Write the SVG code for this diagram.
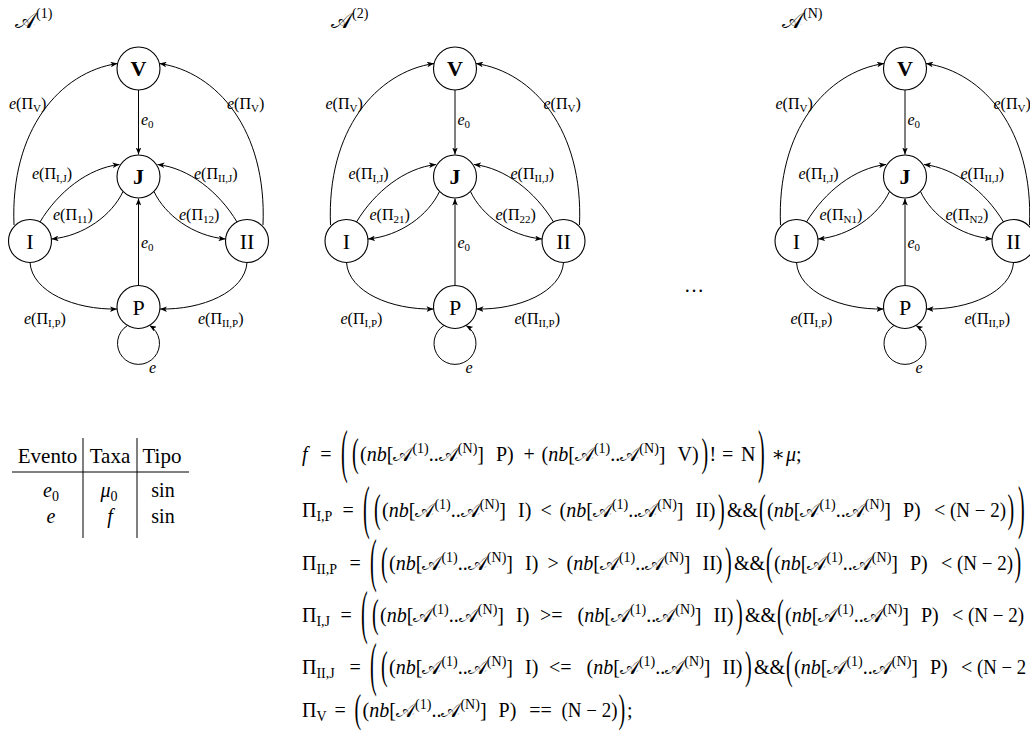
<svg xmlns="http://www.w3.org/2000/svg" width="1030" height="747" viewBox="0 0 1030 747">
<style>
.f{font-family:"Liberation Serif","DejaVu Serif",serif;fill:#000}
.m{font-size:20px}
.i{font-style:italic}
.s{font-size:14px}
.lb{font-size:16px}
.ls{font-size:11px}
.nd{font-size:22px;text-anchor:middle}
.b{font-weight:bold}
.tc{text-anchor:middle}
.n{fill:#fff;stroke:#000;stroke-width:1.1}
.e{fill:none;stroke:#000;stroke-width:1;marker-end:url(#ah)}
.rl{stroke:#000;stroke-width:1}
</style>
<defs>
<marker id="ah" viewBox="0 0 10 8" refX="10" refY="4" markerWidth="7" markerHeight="5.6" orient="auto" markerUnits="userSpaceOnUse"><path d="M0,0 L10,4 L0,8 L2.5,4 z" fill="#000"/></marker>
</defs>

<!-- titles -->
<text class="f" x="15" y="28" font-size="22">𝒜<tspan class="s" dy="-10">(1)</tspan></text>
<text class="f" x="331" y="28" font-size="22">𝒜<tspan class="s" dy="-10">(2)</tspan></text>
<text class="f" x="782" y="28" font-size="22">𝒜<tspan class="s" dy="-10">(N)</tspan></text>
<text class="f m tc" x="694" y="292">…</text>

<!-- automaton 1 -->
<g id="aut1">
<g id="a1-edges">
<path class="e" d="M138.5,90 L138.5,154.5"/>
<path class="e" d="M138.5,285.5 L138.5,198.5"/>
<path class="e" d="M14,225 C10,130 60,72 117.5,63.5"/>
<path class="e" d="M263,225 C267,130 217,72 159.5,63.5"/>
<path class="e" d="M40,222 C58,192 88,168 119.5,164.5"/>
<path class="e" d="M237,222 C219,192 189,168 157.5,164.5"/>
<path class="e" d="M123,191.5 C112,215 84,236 51.5,239"/>
<path class="e" d="M154,191.5 C165,215 193,236 225.5,239"/>
<path class="e" d="M30,262.5 C32,292 75,310 117,309"/>
<path class="e" d="M247,262.5 C245,292 202,310 160,309"/>
<path class="e" d="M127.5,325.5 A21,21 0 1 0 149.5,325.5"/>
<text class="f lb" x="9" y="109"><tspan class="i">e</tspan>(Π<tspan class="ls" dy="3">V</tspan><tspan dy="-3">)</tspan></text>
<text class="f lb" x="227" y="109"><tspan class="i">e</tspan>(Π<tspan class="ls" dy="3">V</tspan><tspan dy="-3">)</tspan></text>
<text class="f lb" x="141" y="125"><tspan class="i">e</tspan><tspan class="ls" dy="3">0</tspan></text>
<text class="f lb" x="32" y="179"><tspan class="i">e</tspan>(Π<tspan class="ls" dy="3">I,J</tspan><tspan dy="-3">)</tspan></text>
<text class="f lb" x="194" y="179"><tspan class="i">e</tspan>(Π<tspan class="ls" dy="3">II,J</tspan><tspan dy="-3">)</tspan></text>
<text class="f lb" x="53" y="220"><tspan class="i">e</tspan>(Π<tspan class="ls" dy="3">11</tspan><tspan dy="-3">)</tspan></text>
<text class="f lb" x="179" y="220"><tspan class="i">e</tspan>(Π<tspan class="ls" dy="3">12</tspan><tspan dy="-3">)</tspan></text>
<text class="f lb" x="141" y="248"><tspan class="i">e</tspan><tspan class="ls" dy="3">0</tspan></text>
<text class="f lb" x="24" y="324"><tspan class="i">e</tspan>(Π<tspan class="ls" dy="3">I,P</tspan><tspan dy="-3">)</tspan></text>
<text class="f lb" x="198" y="324"><tspan class="i">e</tspan>(Π<tspan class="ls" dy="3">II,P</tspan><tspan dy="-3">)</tspan></text>
<text class="f lb i" x="149" y="373">e</text>
</g>
<g id="a1-V"><circle class="n" cx="138.5" cy="68.5" r="21.5"/><text class="f nd b" x="138.5" y="76">V</text></g>
<g id="a1-J"><circle class="n" cx="138.5" cy="176.5" r="21.5"/><text class="f nd b" x="138.5" y="184">J</text></g>
<g id="a1-I"><circle class="n" cx="30" cy="241" r="21.5"/><text class="f nd" x="30" y="248.5">I</text></g>
<g id="a1-II"><circle class="n" cx="247" cy="241" r="21.5"/><text class="f nd" x="247" y="248.5">II</text></g>
<g id="a1-P"><circle class="n" cx="138.5" cy="307" r="21.5"/><text class="f nd" x="138.5" y="314.5">P</text></g>
</g>

<!-- automaton 2 -->
<g id="aut2" transform="translate(316.5,0)">
<g id="a2-edges">
<path class="e" d="M138.5,90 L138.5,154.5"/>
<path class="e" d="M138.5,285.5 L138.5,198.5"/>
<path class="e" d="M14,225 C10,130 60,72 117.5,63.5"/>
<path class="e" d="M263,225 C267,130 217,72 159.5,63.5"/>
<path class="e" d="M40,222 C58,192 88,168 119.5,164.5"/>
<path class="e" d="M237,222 C219,192 189,168 157.5,164.5"/>
<path class="e" d="M123,191.5 C112,215 84,236 51.5,239"/>
<path class="e" d="M154,191.5 C165,215 193,236 225.5,239"/>
<path class="e" d="M30,262.5 C32,292 75,310 117,309"/>
<path class="e" d="M247,262.5 C245,292 202,310 160,309"/>
<path class="e" d="M127.5,325.5 A21,21 0 1 0 149.5,325.5"/>
<text class="f lb" x="9" y="109"><tspan class="i">e</tspan>(Π<tspan class="ls" dy="3">V</tspan><tspan dy="-3">)</tspan></text>
<text class="f lb" x="227" y="109"><tspan class="i">e</tspan>(Π<tspan class="ls" dy="3">V</tspan><tspan dy="-3">)</tspan></text>
<text class="f lb" x="141" y="125"><tspan class="i">e</tspan><tspan class="ls" dy="3">0</tspan></text>
<text class="f lb" x="32" y="179"><tspan class="i">e</tspan>(Π<tspan class="ls" dy="3">I,J</tspan><tspan dy="-3">)</tspan></text>
<text class="f lb" x="194" y="179"><tspan class="i">e</tspan>(Π<tspan class="ls" dy="3">II,J</tspan><tspan dy="-3">)</tspan></text>
<text class="f lb" x="53" y="220"><tspan class="i">e</tspan>(Π<tspan class="ls" dy="3">21</tspan><tspan dy="-3">)</tspan></text>
<text class="f lb" x="179" y="220"><tspan class="i">e</tspan>(Π<tspan class="ls" dy="3">22</tspan><tspan dy="-3">)</tspan></text>
<text class="f lb" x="141" y="248"><tspan class="i">e</tspan><tspan class="ls" dy="3">0</tspan></text>
<text class="f lb" x="24" y="324"><tspan class="i">e</tspan>(Π<tspan class="ls" dy="3">I,P</tspan><tspan dy="-3">)</tspan></text>
<text class="f lb" x="198" y="324"><tspan class="i">e</tspan>(Π<tspan class="ls" dy="3">II,P</tspan><tspan dy="-3">)</tspan></text>
<text class="f lb i" x="149" y="373">e</text>
</g>
<g id="a2-V"><circle class="n" cx="138.5" cy="68.5" r="21.5"/><text class="f nd b" x="138.5" y="76">V</text></g>
<g id="a2-J"><circle class="n" cx="138.5" cy="176.5" r="21.5"/><text class="f nd b" x="138.5" y="184">J</text></g>
<g id="a2-I"><circle class="n" cx="30" cy="241" r="21.5"/><text class="f nd" x="30" y="248.5">I</text></g>
<g id="a2-II"><circle class="n" cx="247" cy="241" r="21.5"/><text class="f nd" x="247" y="248.5">II</text></g>
<g id="a2-P"><circle class="n" cx="138.5" cy="307" r="21.5"/><text class="f nd" x="138.5" y="314.5">P</text></g>
</g>

<!-- automaton N -->
<g id="autN" transform="translate(766.5,0)">
<g id="aN-edges">
<path class="e" d="M138.5,90 L138.5,154.5"/>
<path class="e" d="M138.5,285.5 L138.5,198.5"/>
<path class="e" d="M14,225 C10,130 60,72 117.5,63.5"/>
<path class="e" d="M263,225 C267,130 217,72 159.5,63.5"/>
<path class="e" d="M40,222 C58,192 88,168 119.5,164.5"/>
<path class="e" d="M237,222 C219,192 189,168 157.5,164.5"/>
<path class="e" d="M123,191.5 C112,215 84,236 51.5,239"/>
<path class="e" d="M154,191.5 C165,215 193,236 225.5,239"/>
<path class="e" d="M30,262.5 C32,292 75,310 117,309"/>
<path class="e" d="M247,262.5 C245,292 202,310 160,309"/>
<path class="e" d="M127.5,325.5 A21,21 0 1 0 149.5,325.5"/>
<text class="f lb" x="9" y="109"><tspan class="i">e</tspan>(Π<tspan class="ls" dy="3">V</tspan><tspan dy="-3">)</tspan></text>
<text class="f lb" x="227" y="109"><tspan class="i">e</tspan>(Π<tspan class="ls" dy="3">V</tspan><tspan dy="-3">)</tspan></text>
<text class="f lb" x="141" y="125"><tspan class="i">e</tspan><tspan class="ls" dy="3">0</tspan></text>
<text class="f lb" x="32" y="179"><tspan class="i">e</tspan>(Π<tspan class="ls" dy="3">I,J</tspan><tspan dy="-3">)</tspan></text>
<text class="f lb" x="194" y="179"><tspan class="i">e</tspan>(Π<tspan class="ls" dy="3">II,J</tspan><tspan dy="-3">)</tspan></text>
<text class="f lb" x="53" y="220"><tspan class="i">e</tspan>(Π<tspan class="ls" dy="3">N1</tspan><tspan dy="-3">)</tspan></text>
<text class="f lb" x="179" y="220"><tspan class="i">e</tspan>(Π<tspan class="ls" dy="3">N2</tspan><tspan dy="-3">)</tspan></text>
<text class="f lb" x="141" y="248"><tspan class="i">e</tspan><tspan class="ls" dy="3">0</tspan></text>
<text class="f lb" x="24" y="324"><tspan class="i">e</tspan>(Π<tspan class="ls" dy="3">I,P</tspan><tspan dy="-3">)</tspan></text>
<text class="f lb" x="198" y="324"><tspan class="i">e</tspan>(Π<tspan class="ls" dy="3">II,P</tspan><tspan dy="-3">)</tspan></text>
<text class="f lb i" x="149" y="373">e</text>
</g>
<g id="aN-V"><circle class="n" cx="138.5" cy="68.5" r="21.5"/><text class="f nd b" x="138.5" y="76">V</text></g>
<g id="aN-J"><circle class="n" cx="138.5" cy="176.5" r="21.5"/><text class="f nd b" x="138.5" y="184">J</text></g>
<g id="aN-I"><circle class="n" cx="30" cy="241" r="21.5"/><text class="f nd" x="30" y="248.5">I</text></g>
<g id="aN-II"><circle class="n" cx="247" cy="241" r="21.5"/><text class="f nd" x="247" y="248.5">II</text></g>
<g id="aN-P"><circle class="n" cx="138.5" cy="307" r="21.5"/><text class="f nd" x="138.5" y="314.5">P</text></g>
</g>

<!-- table -->
<g id="table">
<line class="rl" x1="12" y1="472" x2="189" y2="472"/>
<line class="rl" x1="83" y1="438" x2="83" y2="538"/>
<line class="rl" x1="137" y1="438" x2="137" y2="538"/>
<text class="f tc" font-size="21" x="47.5" y="463">Evento</text>
<text class="f tc" font-size="21" x="110" y="463">Taxa</text>
<text class="f tc" font-size="21" x="162" y="463">Tipo</text>
<text class="f m tc" x="51" y="497"><tspan class="i">e</tspan><tspan class="s" dy="4">0</tspan></text>
<text class="f m tc" x="109" y="497"><tspan class="i">μ</tspan><tspan class="s" dy="4">0</tspan></text>
<text class="f m tc" x="163" y="497">sin</text>
<text class="f m tc i" x="51" y="523">e</text>
<text class="f m tc i" x="110" y="523">f</text>
<text class="f m tc" x="163" y="523">sin</text>
</g>

<!-- formulas -->
<g id="formulas">
<!-- line 1 -->
<text class="f m i" x="302" y="461">f</text>
<text class="f m" x="320.3" y="461">=</text>
<text class="f m" transform="translate(341,471) scale(1,3)">(</text>
<text class="f m" transform="translate(352,466) scale(1,2)">(</text>
<text class="f m" x="360" y="461" textLength="124" lengthAdjust="spacingAndGlyphs">(<tspan class="i">nb</tspan>[𝒜<tspan class="s" dy="-8">(1)</tspan><tspan dy="8">..𝒜</tspan><tspan class="s" dy="-8">(N)</tspan><tspan dy="8">]</tspan></text>
<text class="f m" x="496" y="461">P)</text>
<text class="f m" x="523.6" y="461">+</text>
<text class="f m" x="541.5" y="461" textLength="124" lengthAdjust="spacingAndGlyphs">(<tspan class="i">nb</tspan>[𝒜<tspan class="s" dy="-8">(1)</tspan><tspan dy="8">..𝒜</tspan><tspan class="s" dy="-8">(N)</tspan><tspan dy="8">]</tspan></text>
<text class="f m" x="677.5" y="461">V)</text>
<text class="f m" transform="translate(701.5,466) scale(1,2)">)</text>
<text class="f m" x="709.5" y="461">!</text>
<text class="f m" x="722" y="461">=</text>
<text class="f m" x="741" y="461">N</text>
<text class="f m" transform="translate(758,471) scale(1,3)">)</text>
<text class="f m" x="771.5" y="461">∗</text>
<text class="f m" x="786" y="461"><tspan class="i">μ</tspan>;</text>

<!-- line 2 -->
<text class="f m" x="302" y="517">Π<tspan class="s" dy="4">I,P</tspan></text>
<text class="f m" x="342.4" y="517">=</text>
<text class="f m" transform="translate(363,527) scale(1,3)">(</text>
<text class="f m" transform="translate(374,522) scale(1,2)">(</text>
<text class="f m" x="382" y="517" textLength="124" lengthAdjust="spacingAndGlyphs">(<tspan class="i">nb</tspan>[𝒜<tspan class="s" dy="-8">(1)</tspan><tspan dy="8">..𝒜</tspan><tspan class="s" dy="-8">(N)</tspan><tspan dy="8">]</tspan></text>
<text class="f m" x="518" y="517">I)</text>
<text class="f m" x="540.5" y="517">&lt;</text>
<text class="f m" x="559.5" y="517" textLength="124" lengthAdjust="spacingAndGlyphs">(<tspan class="i">nb</tspan>[𝒜<tspan class="s" dy="-8">(1)</tspan><tspan dy="8">..𝒜</tspan><tspan class="s" dy="-8">(N)</tspan><tspan dy="8">]</tspan></text>
<text class="f m" x="695.5" y="517">II)</text>
<text class="f m" transform="translate(718,522) scale(1,2)">)</text>
<text class="f m" x="727" y="517">&amp;&amp;</text>
<text class="f m" transform="translate(759,522) scale(1,2)">(</text>
<text class="f m" x="767" y="517" textLength="124" lengthAdjust="spacingAndGlyphs">(<tspan class="i">nb</tspan>[𝒜<tspan class="s" dy="-8">(1)</tspan><tspan dy="8">..𝒜</tspan><tspan class="s" dy="-8">(N)</tspan><tspan dy="8">]</tspan></text>
<text class="f m" x="903" y="517">P)</text>
<text class="f m" x="934" y="517">&lt;</text>
<text class="f m" x="950" y="517" textLength="56" lengthAdjust="spacingAndGlyphs">(N − 2)</text>
<text class="f m" transform="translate(1007.5,522) scale(1,2)">)</text>
<text class="f m" transform="translate(1018,527) scale(1,3)">)</text>

<!-- line 3 -->
<text class="f m" x="302" y="570">Π<tspan class="s" dy="4">II,P</tspan></text>
<text class="f m" x="349.4" y="570">=</text>
<text class="f m" transform="translate(370,580) scale(1,3)">(</text>
<text class="f m" transform="translate(381,575) scale(1,2)">(</text>
<text class="f m" x="389" y="570" textLength="124" lengthAdjust="spacingAndGlyphs">(<tspan class="i">nb</tspan>[𝒜<tspan class="s" dy="-8">(1)</tspan><tspan dy="8">..𝒜</tspan><tspan class="s" dy="-8">(N)</tspan><tspan dy="8">]</tspan></text>
<text class="f m" x="525" y="570">I)</text>
<text class="f m" x="547.5" y="570">&gt;</text>
<text class="f m" x="566.5" y="570" textLength="124" lengthAdjust="spacingAndGlyphs">(<tspan class="i">nb</tspan>[𝒜<tspan class="s" dy="-8">(1)</tspan><tspan dy="8">..𝒜</tspan><tspan class="s" dy="-8">(N)</tspan><tspan dy="8">]</tspan></text>
<text class="f m" x="702.5" y="570">II)</text>
<text class="f m" transform="translate(725,575) scale(1,2)">)</text>
<text class="f m" x="734" y="570">&amp;&amp;</text>
<text class="f m" transform="translate(766,575) scale(1,2)">(</text>
<text class="f m" x="774" y="570" textLength="124" lengthAdjust="spacingAndGlyphs">(<tspan class="i">nb</tspan>[𝒜<tspan class="s" dy="-8">(1)</tspan><tspan dy="8">..𝒜</tspan><tspan class="s" dy="-8">(N)</tspan><tspan dy="8">]</tspan></text>
<text class="f m" x="910" y="570">P)</text>
<text class="f m" x="941" y="570">&lt;</text>
<text class="f m" x="957" y="570" textLength="56" lengthAdjust="spacingAndGlyphs">(N − 2)</text>
<text class="f m" transform="translate(1014.5,575) scale(1,2)">)</text>

<!-- line 4 -->
<text class="f m" x="302" y="622">Π<tspan class="s" dy="4">I,J</tspan></text>
<text class="f m" x="340.4" y="622">=</text>
<text class="f m" transform="translate(361,632) scale(1,3)">(</text>
<text class="f m" transform="translate(372,627) scale(1,2)">(</text>
<text class="f m" x="380" y="622" textLength="124" lengthAdjust="spacingAndGlyphs">(<tspan class="i">nb</tspan>[𝒜<tspan class="s" dy="-8">(1)</tspan><tspan dy="8">..𝒜</tspan><tspan class="s" dy="-8">(N)</tspan><tspan dy="8">]</tspan></text>
<text class="f m" x="516" y="622">I)</text>
<text class="f m" x="540" y="622">&gt;=</text>
<text class="f m" x="577.5" y="622" textLength="124" lengthAdjust="spacingAndGlyphs">(<tspan class="i">nb</tspan>[𝒜<tspan class="s" dy="-8">(1)</tspan><tspan dy="8">..𝒜</tspan><tspan class="s" dy="-8">(N)</tspan><tspan dy="8">]</tspan></text>
<text class="f m" x="713.5" y="622">II)</text>
<text class="f m" transform="translate(736,627) scale(1,2)">)</text>
<text class="f m" x="745" y="622">&amp;&amp;</text>
<text class="f m" transform="translate(777,627) scale(1,2)">(</text>
<text class="f m" x="785" y="622" textLength="124" lengthAdjust="spacingAndGlyphs">(<tspan class="i">nb</tspan>[𝒜<tspan class="s" dy="-8">(1)</tspan><tspan dy="8">..𝒜</tspan><tspan class="s" dy="-8">(N)</tspan><tspan dy="8">]</tspan></text>
<text class="f m" x="921" y="622">P)</text>
<text class="f m" x="952" y="622">&lt;</text>
<text class="f m" x="968" y="622" textLength="56" lengthAdjust="spacingAndGlyphs">(N − 2)</text>

<!-- line 5 -->
<text class="f m" x="302" y="674">Π<tspan class="s" dy="4">II,J</tspan></text>
<text class="f m" x="349.4" y="674">=</text>
<text class="f m" transform="translate(370,684) scale(1,3)">(</text>
<text class="f m" transform="translate(381,679) scale(1,2)">(</text>
<text class="f m" x="389" y="674" textLength="124" lengthAdjust="spacingAndGlyphs">(<tspan class="i">nb</tspan>[𝒜<tspan class="s" dy="-8">(1)</tspan><tspan dy="8">..𝒜</tspan><tspan class="s" dy="-8">(N)</tspan><tspan dy="8">]</tspan></text>
<text class="f m" x="525" y="674">I)</text>
<text class="f m" x="549" y="674">&lt;=</text>
<text class="f m" x="586.5" y="674" textLength="124" lengthAdjust="spacingAndGlyphs">(<tspan class="i">nb</tspan>[𝒜<tspan class="s" dy="-8">(1)</tspan><tspan dy="8">..𝒜</tspan><tspan class="s" dy="-8">(N)</tspan><tspan dy="8">]</tspan></text>
<text class="f m" x="722.5" y="674">II)</text>
<text class="f m" transform="translate(745,679) scale(1,2)">)</text>
<text class="f m" x="754" y="674">&amp;&amp;</text>
<text class="f m" transform="translate(786,679) scale(1,2)">(</text>
<text class="f m" x="794" y="674" textLength="124" lengthAdjust="spacingAndGlyphs">(<tspan class="i">nb</tspan>[𝒜<tspan class="s" dy="-8">(1)</tspan><tspan dy="8">..𝒜</tspan><tspan class="s" dy="-8">(N)</tspan><tspan dy="8">]</tspan></text>
<text class="f m" x="930" y="674">P)</text>
<text class="f m" x="961" y="674">&lt;</text>
<text class="f m" x="977" y="674" textLength="49" lengthAdjust="spacingAndGlyphs">(N − 2</text>

<!-- line 6 -->
<text class="f m" x="302" y="717">Π<tspan class="s" dy="4">V</tspan></text>
<text class="f m" x="334.6" y="717">=</text>
<text class="f m" transform="translate(354.5,722) scale(1,2)">(</text>
<text class="f m" x="362.6" y="717" textLength="124" lengthAdjust="spacingAndGlyphs">(<tspan class="i">nb</tspan>[𝒜<tspan class="s" dy="-8">(1)</tspan><tspan dy="8">..𝒜</tspan><tspan class="s" dy="-8">(N)</tspan><tspan dy="8">]</tspan></text>
<text class="f m" x="498.6" y="717">P)</text>
<text class="f m" x="529.3" y="717">==</text>
<text class="f m" x="561.5" y="717" textLength="56" lengthAdjust="spacingAndGlyphs">(N − 2)</text>
<text class="f m" transform="translate(618.5,722) scale(1,2)">)</text>
<text class="f m" x="627" y="717">;</text>
</g>
</svg>
